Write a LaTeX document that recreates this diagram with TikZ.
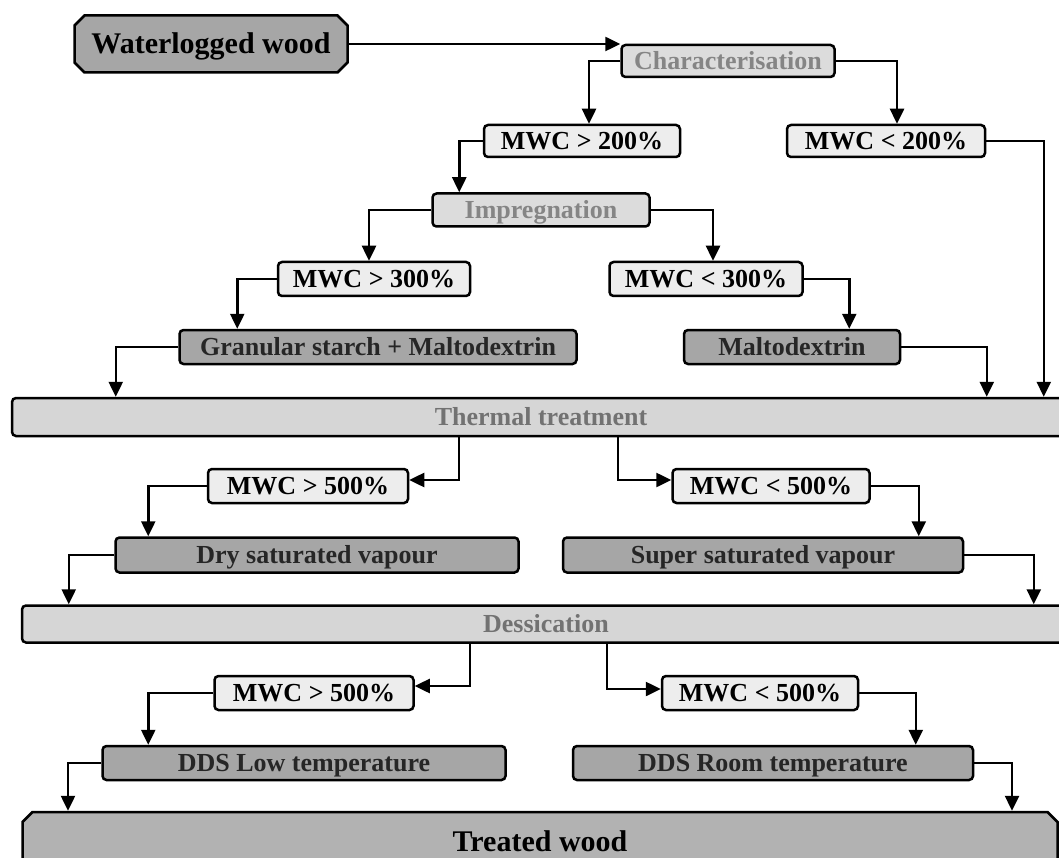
\documentclass[tikz,border=0pt]{standalone}
\usepackage{fontspec}
\setmainfont{Liberation Serif}
\usetikzlibrary{shapes.misc,arrows.meta,calc}

\definecolor{condfill}{HTML}{EDEDED}
\definecolor{stagefill}{HTML}{DCDCDC}
\definecolor{stagetext}{HTML}{858585}
\definecolor{procfill}{HTML}{A6A6A6}
\definecolor{barfill}{HTML}{D6D6D6}
\definecolor{bartext}{HTML}{727272}
\definecolor{endfill}{HTML}{B2B2B2}

\begin{document}
\begin{tikzpicture}[x=1pt,y=1pt,
  box/.style={draw=black, line width=2.5pt, rounded corners=4pt, inner sep=0pt,
    font=\bfseries\fontsize{26}{28}\selectfont, text height=17pt, text depth=0pt},
  cond/.style={box, fill=condfill, text=black},
  stage/.style={box, fill=stagefill, text=stagetext},
  proc/.style={box, fill=procfill, text=black!85},
  bar/.style={box, fill=barfill, text=bartext},
  terminal/.style={chamfered rectangle, chamfered rectangle xsep=14pt,
    chamfered rectangle ysep=0pt, chamfered rectangle angle=45,
    draw=black, line width=2.5pt, inner sep=0pt,
    font=\bfseries\fontsize{30}{32}\selectfont, text height=20pt, text depth=0pt},
  arr/.style={line width=2.5pt, -{Triangle[length=15pt,width=14pt]}},
]
\useasboundingbox (0,0) rectangle (1059,-858);
\clip (0,0) rectangle (1059,-858);

% start and end of the process
\node[terminal, fill=procfill, minimum width=273, minimum height=57] (ww) at (211,-44) {Waterlogged wood};
\node[terminal, fill=endfill, minimum width=1035, minimum height=58] (tw) at (540,-841) {Treated wood};

% characterisation
\node[stage, minimum width=213, minimum height=32] (ch) at (728,-61) {Characterisation};
\node[cond, minimum width=196, minimum height=32] (m2a) at (582,-141) {MWC > 200\%};
\node[cond, minimum width=198, minimum height=32] (m2b) at (886,-141) {MWC < 200\%};

% impregnation
\node[stage, minimum width=217, minimum height=33] (imp) at (541,-210) {Impregnation};
\node[cond, minimum width=192, minimum height=34] (m3a) at (374,-279) {MWC > 300\%};
\node[cond, minimum width=193, minimum height=34] (m3b) at (706,-279) {MWC < 300\%};
\node[proc, minimum width=397, minimum height=34] (gs) at (378,-347) {Granular starch + Maltodextrin};
\node[proc, minimum width=216, minimum height=34] (md) at (792,-347) {Maltodextrin};

% thermal treatment
\node[bar, minimum width=1058, minimum height=38] (tt) at (541,-417) {Thermal treatment};
\node[cond, minimum width=200, minimum height=34] (m5a) at (308,-486) {MWC > 500\%};
\node[cond, minimum width=197, minimum height=34] (m5b) at (771,-486) {MWC < 500\%};
\node[proc, minimum width=403, minimum height=35] (dry) at (317,-555) {Dry saturated vapour};
\node[proc, minimum width=400, minimum height=35] (sup) at (763,-555) {Super saturated vapour};

% dessication
\node[bar, minimum width=1048, minimum height=37] (ds) at (546,-624) {Dessication};
\node[cond, minimum width=199, minimum height=34] (m6a) at (314,-693) {MWC > 500\%};
\node[cond, minimum width=196, minimum height=34] (m6b) at (760,-693) {MWC < 500\%};
\node[proc, minimum width=403, minimum height=34] (ddl) at (304,-763) {DDS Low temperature};
\node[proc, minimum width=400, minimum height=34] (ddr) at (773,-763) {DDS Room temperature};

% connectors
\draw[arr] (ww.east) -- (ww.east -| ch.west);
\draw[arr] (ch.west) -| ($(m2a.north)+(7,0)$);
\draw[arr] (ch.east) -| ($(m2b.north)+(11,0)$);
\draw[arr] (m2b.east) -| ($(tt.north west)+(1033,0)$);
\draw[arr] (m2a.west) -| ($(imp.north west)+(28,0)$);
\draw[arr] (imp.west) -| ($(m3a.north)+(-5,0)$);
\draw[arr] (imp.east) -| ($(m3b.north)+(7,0)$);
\draw[arr] (m3a.west) -| ($(gs.north west)+(59,0)$);
\draw[arr] (m3b.east) -| ($(md.north east)+(-52,0)$);
\draw[arr] (gs.west) -| ($(tt.north west)+(105,0)$);
\draw[arr] (md.east) -| ($(tt.north west)+(976,0)$);

\draw[arr] ($(tt.south west)+(448,0)$) |- ($(m5a.east)+(0,6)$);
\draw[arr] ($(tt.south west)+(607,0)$) |- ($(m5b.west)+(0,6)$);
\draw[arr] (m5a.west) -| ($(dry.north west)+(34,0)$);
\draw[arr] (m5b.east) -| ($(sup.north west)+(357,0)$);
\draw[arr] (dry.west) -| ($(ds.north west)+(48,0)$);
\draw[arr] (sup.east) -| ($(ds.north west)+(1013,0)$);

\draw[arr] ($(ds.south west)+(449,0)$) |- ($(m6a.east)+(0,7)$);
\draw[arr] ($(ds.south west)+(586,0)$) |- ($(m6b.west)+(0,4)$);
\draw[arr] (m6a.west) -| ($(ddl.north west)+(47,0)$);
\draw[arr] (m6b.east) -| ($(ddr.north west)+(344,0)$);
\draw[arr] (ddl.west) -| ($(tw.north)+(-472,0)$);
\draw[arr] (ddr.east) -| ($(tw.north)+(472,0)$);
\end{tikzpicture}
\end{document}
